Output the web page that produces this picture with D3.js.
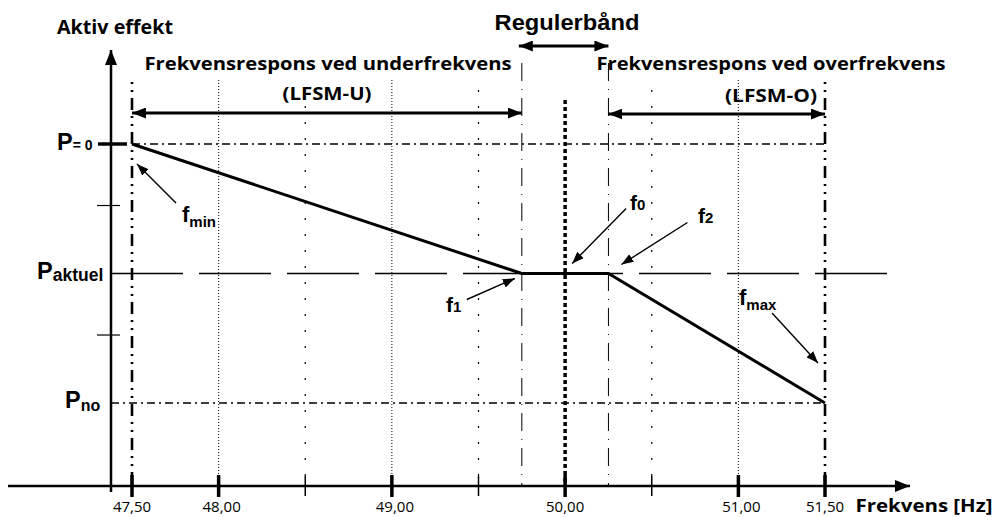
<!DOCTYPE html>
<html><head><meta charset="utf-8">
<script src="https://cdn.jsdelivr.net/npm/d3@7"></script>
<style>body{margin:0;background:#fff}svg{display:block}</style>
</head><body>
<script>
// ---- data ----
const majorTicks = [47.5, 48, 49, 50, 51, 51.5];
const majorTickLabels = ["47,50", "48,00", "49,00", "50,00", "51,00", "51,50"];
const minorTicks = [48.5, 49.5, 50.5];
const bandTicks = [49.75, 50.25];          // f1, f2 (regulerbånd limits)
const dottedGrid = [48, 49, 51];
const sparseGrid = [48.5, 49.5, 50.5];
const edgeFreqs = [47.5, 51.5];            // fmin, fmax
const f0 = 50;
const responseF = [47.5, 49.75, 50.25, 51.5];
const responseP = [4, 2, 2, 0];
const levelP0 = 4, levelAktuel = 2, levelPno = 0;
const yMinorTicks = [1.05, 3.05];

const W = 993, H = 517;
const svg = d3.select("body").append("svg").attr("width", W).attr("height", H);
const x = d3.scaleLinear().domain([47.5, 51.5]).range([132, 825]);
const y = d3.scaleLinear().domain([0, 4]).range([403, 144]);
const axisY = 486, axisX = 111, gridTop = 80;

const defs = svg.append("defs");
function marker(id, len, wid, orient) {
  defs.append("marker").attr("id", id).attr("markerUnits", "userSpaceOnUse")
    .attr("viewBox", `0 0 ${len} ${wid}`).attr("refX", len).attr("refY", wid / 2)
    .attr("markerWidth", len).attr("markerHeight", wid).attr("orient", orient)
    .append("path").attr("d", `M0,0L${len},${wid / 2}L0,${wid}Z`).attr("fill", "#000");
}
marker("big", 14, 11, "auto-start-reverse");
marker("small", 12, 9, "auto");
marker("axis", 15, 12, "auto");

const g = svg.append("g");
// grid verticals
g.selectAll(".dg").data(dottedGrid).join("line")
  .attr("x1", d => x(d)).attr("x2", d => x(d)).attr("y1", gridTop).attr("y2", axisY)
  .attr("stroke", "#000").attr("stroke-width", 1).attr("stroke-dasharray", "1,2");
g.selectAll(".sg").data(sparseGrid).join("line")
  .attr("x1", d => x(d)).attr("x2", d => x(d)).attr("y1", gridTop + 10).attr("y2", axisY)
  .attr("stroke", "#000").attr("stroke-width", 1.2).attr("stroke-dasharray", "2,14");
g.selectAll(".bg").data(bandTicks).join("line")
  .attr("x1", d => x(d)).attr("x2", d => x(d)).attr("y1", 63).attr("y2", axisY)
  .attr("stroke", "#000").attr("stroke-width", 1).attr("stroke-dasharray", "18,8,1,8");
g.selectAll(".eg").data(edgeFreqs).join("line")
  .attr("x1", d => x(d)).attr("x2", d => x(d)).attr("y1", gridTop + 2).attr("y2", axisY)
  .attr("stroke", "#000").attr("stroke-width", 2.6).attr("stroke-dasharray", "2,6,2,6,12,6");
g.append("line").attr("x1", x(f0)).attr("x2", x(f0)).attr("y1", 100).attr("y2", axisY)
  .attr("stroke", "#000").attr("stroke-width", 3.5).attr("stroke-dasharray", "4,3");

// horizontal level lines
g.append("line").attr("x1", x(47.5)).attr("x2", x(51.5)).attr("y1", y(levelP0)).attr("y2", y(levelP0))
  .attr("stroke", "#000").attr("stroke-width", 1.3).attr("stroke-dasharray", "8,4,2,4");
g.append("line").attr("x1", axisX).attr("x2", x(51.5)).attr("y1", y(levelPno)).attr("y2", y(levelPno))
  .attr("stroke", "#000").attr("stroke-width", 1.3).attr("stroke-dasharray", "8,4,2,4");
g.append("line").attr("x1", axisX).attr("x2", 900).attr("y1", y(levelAktuel)).attr("y2", y(levelAktuel))
  .attr("stroke", "#000").attr("stroke-width", 1.3).attr("stroke-dasharray", "72,16");

// axes
g.append("line").attr("x1", 8).attr("x2", 910).attr("y1", axisY).attr("y2", axisY)
  .attr("stroke", "#000").attr("stroke-width", 2.5).attr("marker-end", "url(#axis)");
g.append("line").attr("x1", axisX).attr("x2", axisX).attr("y1", 492).attr("y2", 50)
  .attr("stroke", "#000").attr("stroke-width", 2.5).attr("marker-end", "url(#axis)");

// x ticks
g.selectAll(".mt").data(majorTicks).join("line")
  .attr("x1", d => x(d)).attr("x2", d => x(d)).attr("y1", 475).attr("y2", 497)
  .attr("stroke", "#000").attr("stroke-width", 3.5);
g.selectAll(".nt").data(minorTicks).join("line")
  .attr("x1", d => x(d)).attr("x2", d => x(d)).attr("y1", 476).attr("y2", 496)
  .attr("stroke", "#000").attr("stroke-width", 1.5);
g.selectAll(".tl").data(majorTicks).join("text")
  .attr("x", (d, i) => x(d) + (i > 0 && i < 5 && d !== 50 ? 3 : 0)).attr("y", 512).attr("text-anchor", "middle")
  .attr("font-family", "Open Sans").attr("font-size", 15).text((d, i) => majorTickLabels[i]);

// y ticks
g.selectAll(".yt").data(yMinorTicks).join("line")
  .attr("x1", axisX - 14).attr("x2", axisX + 9).attr("y1", d => y(d)).attr("y2", d => y(d))
  .attr("stroke", "#000").attr("stroke-width", 1.2);
g.append("line").attr("x1", 98).attr("x2", 127).attr("y1", y(levelP0)).attr("y2", y(levelP0))
  .attr("stroke", "#000").attr("stroke-width", 3.5);

// response line
const line = d3.line().x(d => x(d[0])).y(d => y(d[1]));
g.append("path").attr("d", line(responseF.map((f, i) => [f, responseP[i]])))
  .attr("fill", "none").attr("stroke", "#000").attr("stroke-width", 3).attr("stroke-linejoin", "miter");

// range arrows
function dbl(x1, x2, yy) {
  g.append("line").attr("x1", x1).attr("x2", x2).attr("y1", yy).attr("y2", yy)
    .attr("stroke", "#000").attr("stroke-width", 2.8)
    .attr("marker-start", "url(#big)").attr("marker-end", "url(#big)");
}
dbl(x(47.5), x(49.75), 113);
dbl(x(50.25), x(51.5), 114);
dbl(x(49.75) - 3, x(50.25), 46);

// annotation arrows
function ann(x1, y1, x2, y2) {
  g.append("line").attr("x1", x1).attr("y1", y1).attr("x2", x2).attr("y2", y2)
    .attr("stroke", "#000").attr("stroke-width", 1.4).attr("marker-end", "url(#small)");
}
ann(x(47.5) + 44, y(levelP0) + 59, x(47.5) + 5, y(levelP0) + 20);
ann(x(49.75) - 55, y(levelAktuel) + 26, x(49.75) - 7, y(levelAktuel) + 5);
ann(x(f0) + 61, y(levelAktuel) - 65, x(f0) + 7, y(levelAktuel) - 10);
ann(x(50.25) + 79, y(levelAktuel) - 51, x(50.25) + 13, y(levelAktuel) - 9);
ann(x(51.5) - 53, y(levelPno) - 90, x(51.5) - 7, y(levelPno) - 40);

// labels
function boldText(tx, ty, s, size, fam, len) {
  const t = g.append("text").attr("x", tx).attr("y", ty).attr("font-family", fam)
    .attr("font-weight", "bold").attr("font-size", size)
    .attr("text-anchor", "middle").text(s);
  if (len) t.attr("textLength", len).attr("lengthAdjust", "spacingAndGlyphs");
  return t;
}
boldText(115, 34, "Aktiv effekt", 19, "Open Sans", 116);
boldText(328, 70, "Frekvensrespons ved underfrekvens", 18.5, "Open Sans", 367);
boldText(327, 100, "(LFSM-U)", 18.5, "Open Sans", 89);
boldText(771, 70, "Frekvensrespons ved overfrekvens", 18.5, "Open Sans", 349);
boldText(771, 102, "(LFSM-O)", 18.5, "Open Sans", 92);
boldText(567, 30, "Regulerbånd", 21.5, "Liberation Sans", 145);
boldText(924, 512, "Frekvens [Hz]", 18.5, "Open Sans", 137);

function sub(tx, ty, main, s, mainSize, subSize, dy) {
  const t = g.append("text").attr("x", tx).attr("y", ty).attr("font-family", "Liberation Sans")
    .attr("font-weight", "bold").attr("font-size", mainSize);
  t.append("tspan").text(main);
  t.append("tspan").attr("font-size", subSize).attr("dy", dy).text(s);
}
sub(57, 150, "P", "= 0", 23.5, 14, 0);
sub(37, 279, "P", "aktuel", 23.5, 17.5, 2);
sub(65, 408, "P", "no", 23.5, 16, 3);
sub(182, 222, "f", "min", 22, 15, 5);
sub(446, 312, "f", "1", 21, 15, 0);
sub(630, 210, "f", "0", 21, 15, 0);
sub(698, 223, "f", "2", 21, 15, 0);
sub(739, 305, "f", "max", 22, 15, 5);
</script>
</body></html>
